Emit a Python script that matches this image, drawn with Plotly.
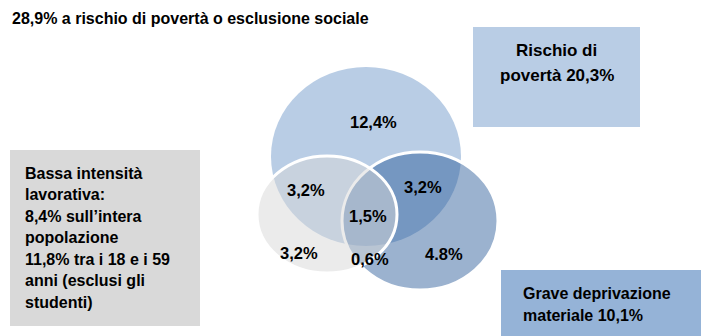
import plotly.graph_objects as go

# --- data -------------------------------------------------------------
title_text = "28,9% a rischio di povertà o esclusione sociale"

poverty_rate = 20.3          # rischio di povertà
deprivation_rate = 10.1      # grave deprivazione materiale
low_work_total = 8.4         # bassa intensità lavorativa, intera popolazione
low_work_18_59 = 11.8        # bassa intensità lavorativa, 18-59 anni

# Venn region shares (%) and the decimal separator printed for each
region_names = [
    "solo povertà",
    "povertà + bassa intensità",
    "povertà + deprivazione",
    "tutti e tre",
    "solo bassa intensità",
    "bassa intensità + deprivazione",
    "solo deprivazione",
]
region_values = [12.4, 3.2, 3.2, 1.5, 3.2, 0.6, 4.8]
region_separators = [",", ",", ",", ",", ",", ",", "."]


def fmt(v, sep=","):
    return f"{v:.1f}".replace(".", sep)


poverty_lines = ["Rischio di", f"povertà {fmt(poverty_rate)}%"]
deprivation_lines = ["Grave deprivazione", f"materiale {fmt(deprivation_rate)}%"]
low_work_lines = [
    "Bassa intensità",
    "lavorativa:",
    f"{fmt(low_work_total)}% sull’intera",
    "popolazione",
    f"{fmt(low_work_18_59)}% tra i 18 e i 59",
    "anni (esclusi gli",
    "studenti)",
]

# --- layout geometry (pixel space) -----------------------------------
W, H = 706, 336
FONT = "Liberation Sans Narrow, Arial Narrow, Liberation Sans, Arial, sans-serif"

ellipses = {
    "poverty": dict(x0=271, x1=461, y0=67, y1=246),
    "deprivation": dict(x0=342, x1=498, y0=152, y1=290),
    "low_work": dict(x0=257, x1=397, y0=156, y1=273),
}
label_pos = [
    (373, 122), (306, 190), (423, 187), (368, 216),
    (299, 253), (370, 259), (444, 254),
]

fig = go.Figure()

shapes = [
    # caption boxes
    dict(type="rect", x0=473, x1=640, y0=27, y1=127,
         fillcolor="#b9cde5", line=dict(width=0)),
    dict(type="rect", x0=10, x1=200, y0=150, y1=326,
         fillcolor="#d9d9d9", line=dict(width=0)),
    dict(type="rect", x0=501, x1=701, y0=270, y1=340,
         fillcolor="#95b3d7", line=dict(width=0)),
    # Venn sets
    dict(type="circle", **ellipses["poverty"],
         fillcolor="#b9cde5", line=dict(width=0)),
    dict(type="circle", **ellipses["deprivation"],
         fillcolor="rgba(38,88,150,0.46)", line=dict(color="white", width=3)),
    dict(type="circle", **ellipses["low_work"],
         fillcolor="rgba(215,215,215,0.5)", line=dict(color="white", width=3)),
]
for s in shapes:
    s.update(xref="x", yref="y", layer="above")

annotations = []


def add_text(x, y, text, size, xanchor="center"):
    annotations.append(dict(
        x=x, y=y, xref="x", yref="y", text=f"<b>{text}</b>", showarrow=False,
        xanchor=xanchor, yanchor="middle",
        font=dict(family=FONT, size=size, color="#000000"),
    ))


# title
add_text(10, 18, title_text, 16, xanchor="left")

# region percentages
for (x, y), v, sep in zip(label_pos, region_values, region_separators):
    add_text(x, y, f"{fmt(v, sep)}%", 16.5)

# box captions
for i, line in enumerate(poverty_lines):
    add_text(556.5, 50 + i * 25, line, 17)
for i, line in enumerate(low_work_lines):
    add_text(23, 173 + i * 21.5, line, 16, xanchor="left")
for i, line in enumerate(deprivation_lines):
    add_text(521, 293 + i * 22, line, 16, xanchor="left")

fig.update_layout(
    width=W, height=H,
    margin=dict(l=0, r=0, t=0, b=0),
    paper_bgcolor="white", plot_bgcolor="white",
    xaxis=dict(range=[0, W], visible=False, fixedrange=True),
    yaxis=dict(range=[H, 0], visible=False, fixedrange=True),
    shapes=shapes, annotations=annotations,
    showlegend=False,
)

fig.write_html("out.html", config={"displayModeBar": False})
